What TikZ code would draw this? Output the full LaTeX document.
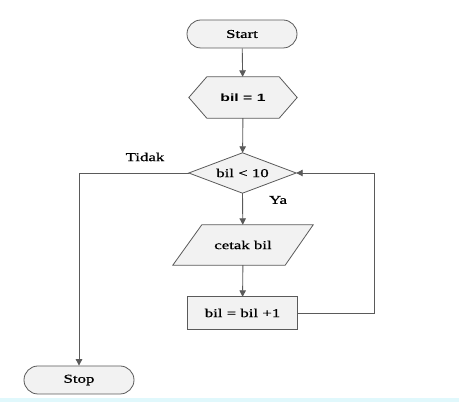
\documentclass[tikz,border=0pt]{standalone}
\usepackage{fontspec}
\setmainfont{Liberation Serif}
\newfontfamily\flowfont[FakeStretch=1.4,FakeBold=0.8]{Liberation Serif}
\newfontfamily\flowsans[FakeStretch=1.5]{Liberation Sans}
\usetikzlibrary{arrows.meta,shapes.misc,backgrounds}
\definecolor{edge}{HTML}{5A5A5A}
\definecolor{boxfill}{HTML}{F2F2F2}
\definecolor{band}{HTML}{E0F8FC}
\begin{document}
\begin{tikzpicture}[x=1pt,y=-1pt,
  base/.style={font=\flowfont\fontsize{12}{14}\selectfont, text=black, inner sep=0pt},
  terminal/.style={base, rounded rectangle, draw=edge, fill=boxfill, line width=0.8pt, minimum width=110pt, minimum height=28pt},
  frame/.style={base, minimum width=#1},
  outline/.style={draw=edge, fill=boxfill, line width=0.8pt},
  arrow/.style={draw=edge, line width=0.9pt, -{Triangle[length=6.5pt,width=6.5pt]}},
  link/.style={draw=edge, line width=0.9pt},
  label/.style={font=\flowfont\fontsize{12}{14}\selectfont, inner sep=0pt}
]
\useasboundingbox (0,0) rectangle (459,403);
\fill[band] (0,398) rectangle (459,402);

\node[terminal] (start) at (242,34) {Start};
\node[frame=108pt, minimum height=41pt, font=\flowsans\bfseries\fontsize{10.5}{12}\selectfont] (init) at (243,97.5) {bil = 1};
\node[frame=107pt, minimum height=40pt] (cond) at (242.5,173) {bil < 10};
\node[frame=140pt, minimum height=40pt] (print) at (243,245) {cetak bil};
\node[frame=109pt, minimum height=32pt] (inc) at (242.5,313) {bil = bil +1};
\node[terminal] (stop) at (79,380) {Stop};
\coordinate (loop) at (374,173);

\node[label] (no) at (145,157) {Tidak};
\node[label] (yes) at (278,200) {Ya};

\begin{pgfonlayer}{background}
  \draw[outline] (init.west) -- ([xshift=18pt]init.north west) -- ([xshift=-18pt]init.north east)
     -- (init.east) -- ([xshift=-18pt]init.south east) -- ([xshift=18pt]init.south west) -- cycle;
  \draw[outline] (cond.west) -- (cond.north) -- (cond.east) -- (cond.south) -- cycle;
  \draw[outline] (print.south west) -- ([xshift=29pt]print.north west) -- (print.north east)
     -- ([xshift=-28pt]print.south east) -- cycle;
  \draw[outline] (inc.south west) rectangle (inc.north east);
\end{pgfonlayer}

\draw[arrow] (start) -- (init);
\draw[arrow] (init) -- (cond);
\draw[arrow] (cond.south) -- (print);
\draw[arrow] (print) -- (inc);
\draw[arrow] (cond.west) -| (stop.north);
\draw[link] (inc.east) -| (loop);
\draw[arrow] (loop) -- (cond.east);
\end{tikzpicture}
\end{document}
